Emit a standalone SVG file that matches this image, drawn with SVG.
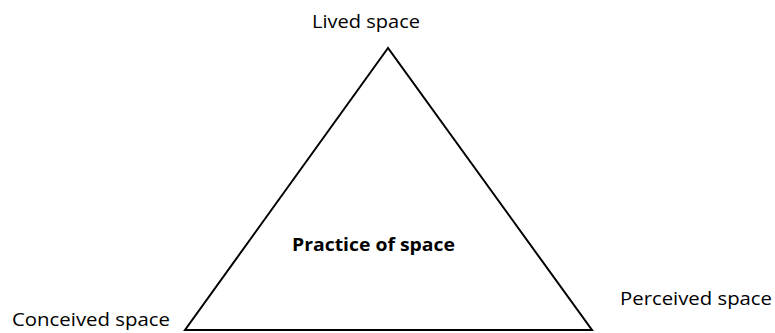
<svg xmlns="http://www.w3.org/2000/svg" width="775" height="333" viewBox="0 0 775 333">
<style>
.lbl{font-family:"Open Sans","Noto Sans","Liberation Sans",sans-serif;font-size:18px;fill:#000}
.b{font-weight:bold}
.tri{fill:none;stroke:#000;stroke-width:2}
</style>
<rect width="775" height="333" fill="#fff"/>
<g id="triangle"><polygon class="tri" points="388,48 185,330 592,330"/></g>
<g id="connectors"/>
<g id="lived"><text class="lbl" x="312" y="28" textLength="108" lengthAdjust="spacingAndGlyphs">Lived space</text></g>
<g id="conceived"><text class="lbl" x="12" y="326" textLength="158" lengthAdjust="spacingAndGlyphs">Conceived space</text></g>
<g id="perceived"><text class="lbl" x="620" y="305" textLength="152" lengthAdjust="spacingAndGlyphs">Perceived space</text></g>
<g id="practice"><text class="lbl b" x="292" y="251" textLength="163" lengthAdjust="spacingAndGlyphs">Practice of space</text></g>
</svg>
